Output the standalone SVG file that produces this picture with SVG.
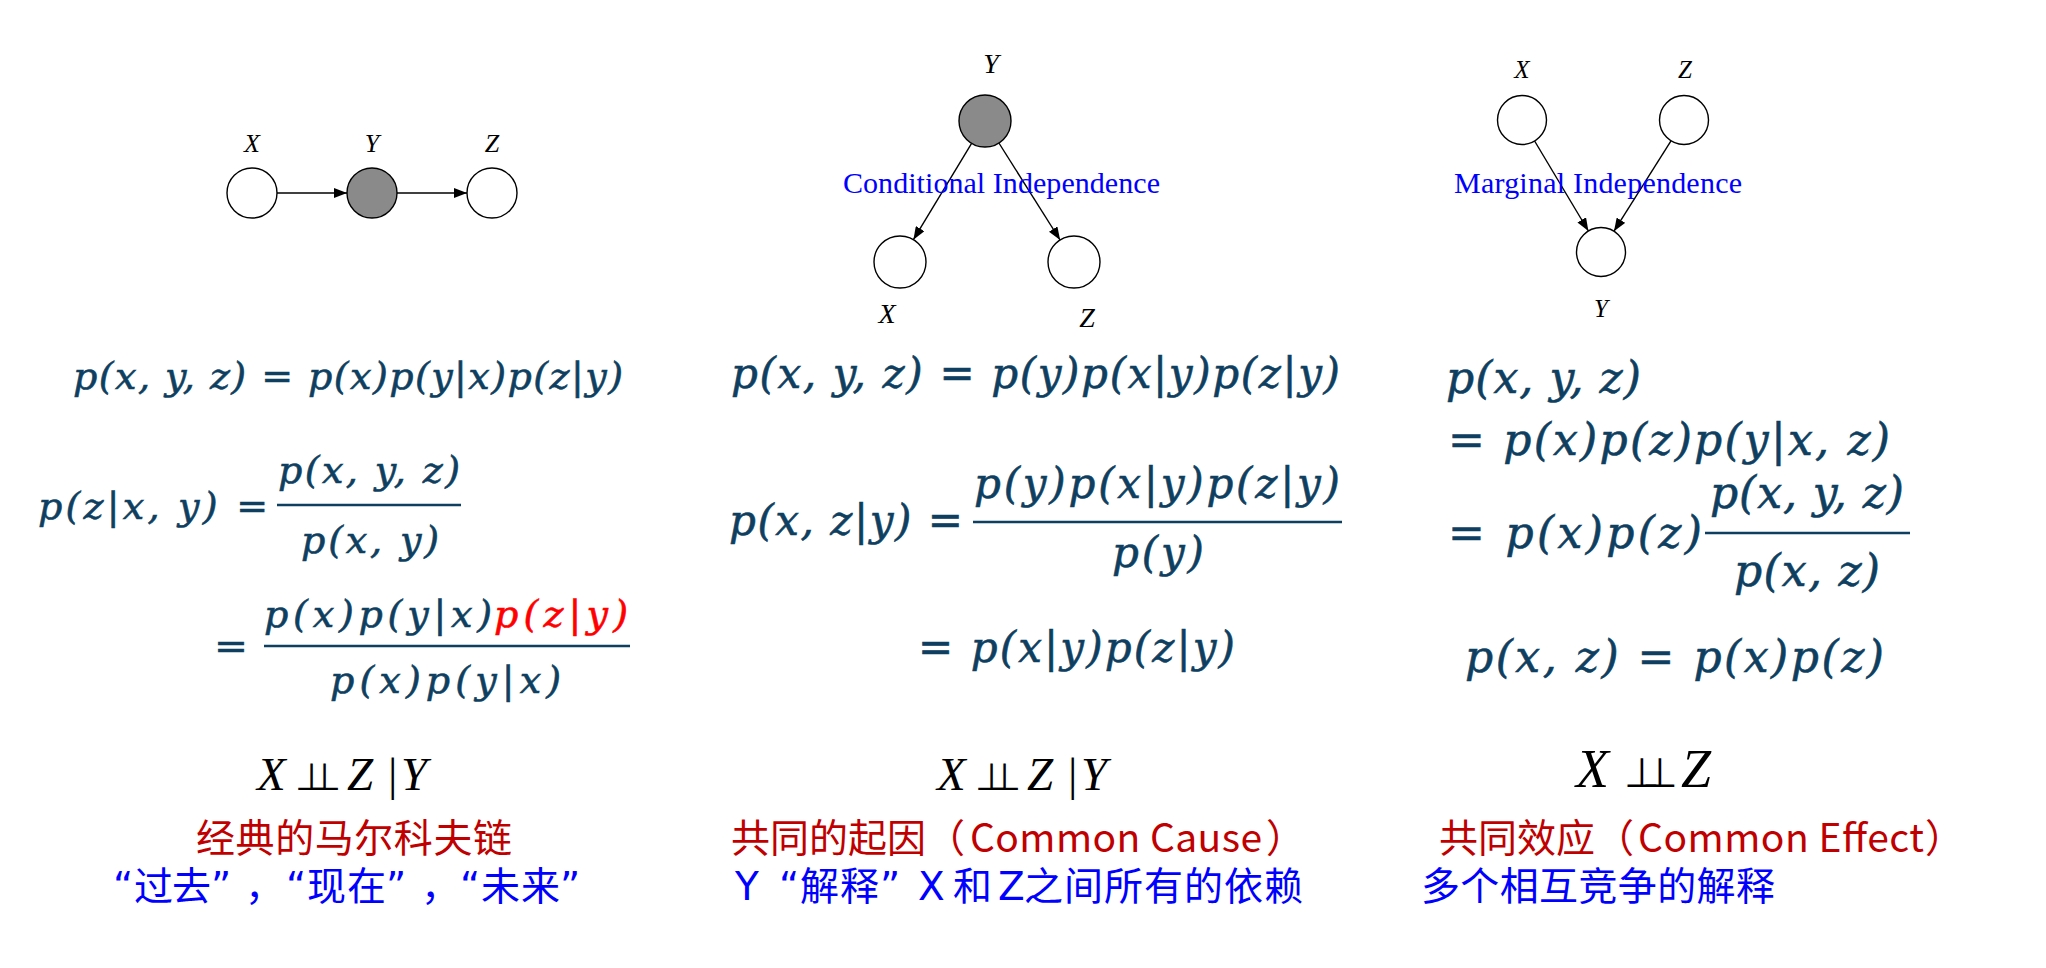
<svg xmlns="http://www.w3.org/2000/svg" width="2046" height="968" viewBox="0 0 2046 968">
<defs>
<style>
.nd{stroke:#000;stroke-width:1.4;fill:#fff}
.obs{fill:#8a8a8a}
.edge{stroke:#000;stroke-width:1.4;fill:none;marker-end:url(#ah)}
.lb{font-family:"Liberation Serif",serif;font-style:italic;fill:#000;text-anchor:middle}
.note{font-family:"Liberation Serif",serif;font-size:30px;fill:#0000ff}
.m{font-family:"DejaVu Serif",serif;font-style:italic;fill:#0f3f60;stroke:#0f3f60;stroke-width:0.6}
.red{fill:#ff0000;stroke:#ff0000}
.bar{stroke:#0f3f60;stroke-width:2.6}
.ci{font-family:"Liberation Serif",serif;font-style:italic;fill:#000}
.up{font-family:"Liberation Serif",serif;font-style:normal}
.tk{font-family:"DejaVu Sans",sans-serif;font-style:normal;font-weight:200}
.cr{font-family:"Noto Sans CJK SC","Noto Sans",sans-serif;font-size:39px;fill:#c00000}
.cbq{font-family:"DejaVu Sans","Noto Sans CJK SC",sans-serif;font-size:39px;fill:#0000ff}
</style>
<marker id="ah" viewBox="0 0 13 10" refX="13" refY="5" markerWidth="13" markerHeight="10" markerUnits="userSpaceOnUse" orient="auto">
<path d="M0,0 L13,5 L0,10 z" fill="#000"/>
</marker>
</defs>
<rect width="2046" height="968" fill="#fff"/>

<!-- connectors -->
<g id="connectors">
<line class="edge" x1="277" y1="193" x2="347" y2="193"/>
<line class="edge" x1="397" y1="193" x2="467" y2="193"/>
<line class="edge" x1="971.6" y1="143.3" x2="913.4" y2="239.7"/>
<line class="edge" x1="998.9" y1="143" x2="1060.1" y2="240"/>
<line class="edge" x1="1534.6" y1="141" x2="1588.4" y2="231"/>
<line class="edge" x1="1671" y1="140.8" x2="1614" y2="231.2"/>
</g>

<!-- chain -->
<g id="chain-X"><circle class="nd" cx="252" cy="193" r="25"/><text class="lb" x="252" y="152" font-size="26">X</text></g>
<g id="chain-Y"><circle class="nd obs" cx="372" cy="193" r="25"/><text class="lb" x="372" y="152" font-size="26">Y</text></g>
<g id="chain-Z"><circle class="nd" cx="492" cy="193" r="25"/><text class="lb" x="492" y="152" font-size="26">Z</text></g>

<!-- common cause -->
<g id="cause-Y"><circle class="nd obs" cx="985" cy="121" r="26"/><text class="lb" x="991" y="73" font-size="28">Y</text></g>
<g id="cause-X"><circle class="nd" cx="900" cy="262" r="26"/><text class="lb" x="887" y="323" font-size="28">X</text></g>
<g id="cause-Z"><circle class="nd" cx="1074" cy="262" r="26"/><text class="lb" x="1087" y="327" font-size="28">Z</text></g>
<text class="note" x="843" y="193" textLength="317">Conditional Independence</text>

<!-- common effect -->
<g id="effect-X"><circle class="nd" cx="1522" cy="120" r="24.5"/><text class="lb" x="1522" y="78" font-size="25">X</text></g>
<g id="effect-Z"><circle class="nd" cx="1684" cy="120" r="24.5"/><text class="lb" x="1685" y="78" font-size="25">Z</text></g>
<g id="effect-Y"><circle class="nd" cx="1601" cy="252" r="24.5"/><text class="lb" x="1601" y="317" font-size="25">Y</text></g>
<text class="note" x="1454" y="193" textLength="288">Marginal Independence</text>

<!-- column 1 formulas -->
<g id="formulas-chain" font-size="38">
<text class="m" x="73" y="389" textLength="550">p(x, y, z) = p(x)p(y|x)p(z|y)</text>
<text class="m" x="38" y="519" textLength="230">p(z|x, y) =</text>
<text class="m" x="278" y="483" textLength="182">p(x, y, z)</text>
<line class="bar" x1="277" y1="505" x2="461" y2="505"/>
<text class="m" x="301" y="553" textLength="138">p(x, y)</text>
<text class="m" x="214" y="659" textLength="34" lengthAdjust="spacingAndGlyphs">=</text>
<text class="m" x="264" y="627" textLength="228">p(x)p(y|x)</text>
<text class="m red" x="494" y="627" textLength="134">p(z|y)</text>
<line class="bar" x1="264" y1="646" x2="630" y2="646"/>
<text class="m" x="330" y="693" textLength="231">p(x)p(y|x)</text>
</g>

<!-- column 2 formulas -->
<g id="formulas-cause" font-size="42">
<text class="m" x="731" y="388" textLength="609">p(x, y, z) = p(y)p(x|y)p(z|y)</text>
<text class="m" x="729" y="535" textLength="234">p(x, z|y) =</text>
<text class="m" x="974" y="498" textLength="366">p(y)p(x|y)p(z|y)</text>
<line class="bar" x1="973" y1="522" x2="1342" y2="522"/>
<text class="m" x="1112" y="567" textLength="92">p(y)</text>
<text class="m" x="918" y="662" textLength="317">= p(x|y)p(z|y)</text>
</g>

<!-- column 3 formulas -->
<g id="formulas-effect" font-size="44">
<text class="m" x="1446" y="393" textLength="195">p(x, y, z)</text>
<text class="m" x="1448" y="455" textLength="442">= p(x)p(z)p(y|x, z)</text>
<text class="m" x="1448" y="548" textLength="254">= p(x)p(z)</text>
<text class="m" x="1710" y="508" textLength="194">p(x, y, z)</text>
<line class="bar" x1="1705" y1="533" x2="1910" y2="533"/>
<text class="m" x="1734" y="586" textLength="146">p(x, z)</text>
<text class="m" x="1465" y="672" textLength="419">p(x, z) = p(x)p(z)</text>
</g>

<!-- independence statements -->
<g id="indep-chain">
<text class="ci" y="790" font-size="47"><tspan x="257">X</tspan><tspan class="tk" x="294.5" font-size="38" letter-spacing="-19.3">⊥⊥</tspan><tspan x="347">Z</tspan><tspan class="up" x="388">|</tspan><tspan x="401">Y</tspan></text>
</g>
<g id="indep-cause">
<text class="ci" y="790" font-size="47"><tspan x="937">X</tspan><tspan class="tk" x="974.5" font-size="38" letter-spacing="-19.3">⊥⊥</tspan><tspan x="1027">Z</tspan><tspan class="up" x="1068">|</tspan><tspan x="1081">Y</tspan></text>
</g>
<g id="indep-effect">
<text class="ci" y="787" font-size="54"><tspan x="1576">X</tspan><tspan class="tk" x="1624" font-size="41" letter-spacing="-18.4">⊥⊥</tspan><tspan x="1681">Z</tspan></text>
</g>

<!-- captions -->
<g id="caption-chain">
<text class="cr" x="196" y="852" textLength="316">经典的马尔科夫链</text>
<text class="cbq" x="113 134 172 211 245 286 307 347 386 421 460 481 521 560" y="900">“过去”，“现在”，“未来”</text>
</g>
<g id="caption-cause">
<text class="cr" x="731" y="852">共同的起因（</text>
<text class="cr" x="970" y="852" textLength="292">Common Cause</text>
<text class="cr" x="1266" y="852">）</text>
<text class="cbq" x="735 779 800 840 880 918 945 953 992 998 1024 1064 1104 1144 1184 1224 1264" y="900">Y“解释”X 和 Z之间所有的依赖</text>
</g>
<g id="caption-effect">
<text class="cr" x="1439" y="852">共同效应（</text>
<text class="cr" x="1638" y="852" textLength="286">Common Effect</text>
<text class="cr" x="1925" y="852">）</text>
<text class="cbq" x="1421" y="900" textLength="354">多个相互竞争的解释</text>
</g>
</svg>
